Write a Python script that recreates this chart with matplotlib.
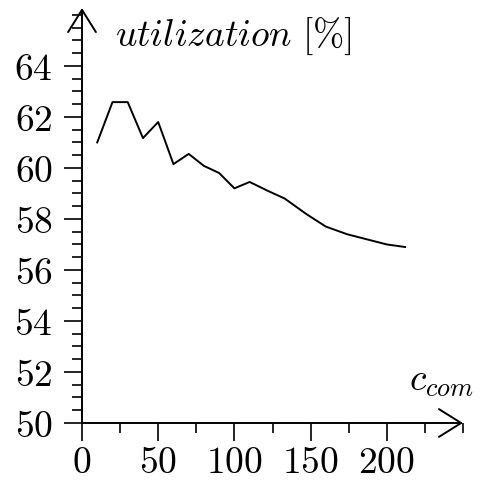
import matplotlib
matplotlib.use("Agg")
import matplotlib.pyplot as plt
from matplotlib.ticker import MultipleLocator, FuncFormatter

plt.rcParams['mathtext.fontset'] = 'cm'
plt.rcParams['font.family'] = 'DejaVu Serif'

c_com = [10, 20, 30, 40, 50, 60, 70, 80, 90, 100, 110, 122, 133, 147, 160, 174, 187, 200, 212]
utilization = [61.0, 62.58, 62.58, 61.17, 61.8, 60.15, 60.55, 60.08, 59.8, 59.2, 59.45,
               59.1, 58.8, 58.2, 57.7, 57.4, 57.2, 57.0, 56.9]
x_ticks = [0, 50, 100, 150, 200]
y_ticks = [50, 52, 54, 56, 58, 60, 62, 64]

W, H = 479, 482
fig = plt.figure(figsize=(W / 100, H / 100), dpi=100)
ax = fig.add_axes([82 / W, (H - 423) / H, (463 - 82) / W, (423 - 8) / H])
ax.set_xlim(0, 250)
ax.set_ylim(50, 66.27)

ax.plot(c_com, utilization, color='black', lw=1.4)

for s in ax.spines.values():
    s.set_visible(False)

arrow = dict(arrowstyle='->,head_length=16,head_width=10', mutation_scale=1,
             lw=1.4, color='black', shrinkA=0, shrinkB=0)
ax.annotate('', xy=(1, 0), xytext=(0, 0), xycoords='axes fraction', arrowprops=arrow)
ax.annotate('', xy=(0, 1), xytext=(0, 0), xycoords='axes fraction', arrowprops=arrow)

ax.set_xticks(x_ticks)
ax.set_yticks(y_ticks)
ax.xaxis.set_minor_locator(MultipleLocator(25))
ax.yaxis.set_minor_locator(MultipleLocator(0.5))
fmt = FuncFormatter(lambda v, p: r'$%d$' % v)
ax.xaxis.set_major_formatter(fmt)
ax.yaxis.set_major_formatter(fmt)
ax.tick_params(which='major', length=13, width=1.2, labelsize=27, direction='out')
ax.tick_params(which='minor', length=7.5, width=1.2, direction='out')
ax.tick_params(axis='y', which='major', pad=8)
ax.tick_params(axis='x', which='major', pad=2.5)

fig.text(115 / W, 1 - 36 / H, r'$utilization\ [\%]$', fontsize=27, va='center', ha='left')
fig.text(409 / W, 1 - 381 / H, r'$c_{com}$', fontsize=27, va='center', ha='left')

fig.savefig('out.png', dpi=100)
